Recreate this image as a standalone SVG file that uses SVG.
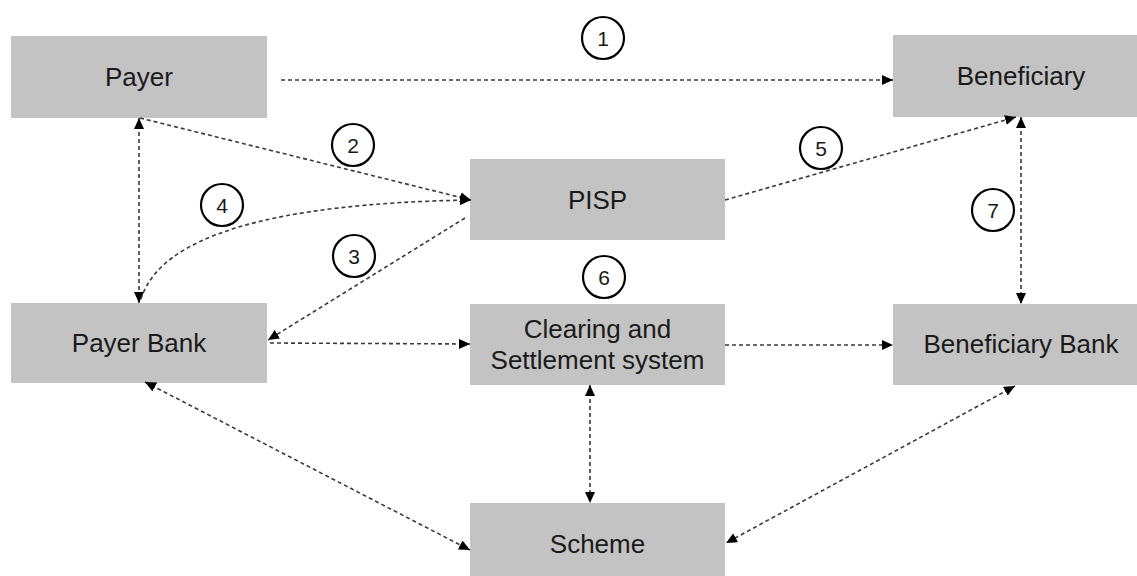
<svg xmlns="http://www.w3.org/2000/svg" width="1137" height="576" viewBox="0 0 1137 576">
<style>
.box{fill:#c3c3c3}
.lbl{font-family:"Liberation Sans",Arial,sans-serif;font-size:26px;fill:#1a1a1a;text-anchor:middle}
.con{fill:none;stroke:#3a3a3a;stroke-width:1.6;stroke-dasharray:4 3}
.num circle{fill:none;stroke:#000;stroke-width:2.2}
.num text{font-family:"Liberation Sans",Arial,sans-serif;font-size:21px;fill:#1a1a1a;text-anchor:middle}
</style>
<defs>
<marker id="ah" markerUnits="userSpaceOnUse" markerWidth="11" markerHeight="10" refX="11" refY="5" orient="auto-start-reverse">
<path d="M0,0 L11,5 L0,10 z" fill="#000"/>
</marker>
</defs>
<rect width="1137" height="576" fill="#fff"/>
<g id="payer"><rect class="box" x="11" y="36" width="256" height="82"/><text class="lbl" x="139" y="86">Payer</text></g>
<g id="beneficiary"><rect class="box" x="893" y="35" width="256" height="82"/><text class="lbl" x="1021" y="85">Beneficiary</text></g>
<g id="pisp"><rect class="box" x="470" y="159" width="255" height="81"/><text class="lbl" x="597.5" y="209">PISP</text></g>
<g id="payer-bank"><rect class="box" x="11" y="303" width="256" height="80"/><text class="lbl" x="139" y="352">Payer Bank</text></g>
<g id="clearing"><rect class="box" x="470" y="304" width="255" height="81"/><text class="lbl" x="597.5" y="338">Clearing and</text><text class="lbl" x="597.5" y="369">Settlement system</text></g>
<g id="beneficiary-bank"><rect class="box" x="893" y="304" width="256" height="81"/><text class="lbl" x="1021" y="353">Beneficiary Bank</text></g>
<g id="scheme"><rect class="box" x="470" y="503" width="255" height="82"/><text class="lbl" x="597.5" y="553">Scheme</text></g>
<g id="connectors">
<line class="con" x1="281" y1="80" x2="893" y2="80" marker-end="url(#ah)"/>
<line class="con" x1="140" y1="118" x2="471" y2="200" marker-end="url(#ah)"/>
<line class="con" x1="139" y1="118" x2="139" y2="303" marker-start="url(#ah)" marker-end="url(#ah)"/>
<path class="con" d="M141,299 Q170,205 471,200" marker-end="url(#ah)"/>
<line class="con" x1="465" y1="218" x2="268" y2="340" marker-end="url(#ah)"/>
<line class="con" x1="270" y1="343" x2="470" y2="344" marker-end="url(#ah)"/>
<line class="con" x1="725" y1="200" x2="1016" y2="117" marker-end="url(#ah)"/>
<line class="con" x1="1021" y1="117" x2="1021" y2="304" marker-start="url(#ah)" marker-end="url(#ah)"/>
<line class="con" x1="725" y1="345" x2="893" y2="345" marker-end="url(#ah)"/>
<line class="con" x1="590" y1="385" x2="590" y2="503" marker-start="url(#ah)" marker-end="url(#ah)"/>
<line class="con" x1="145" y1="382" x2="470" y2="550" marker-start="url(#ah)" marker-end="url(#ah)"/>
<line class="con" x1="1015" y1="386" x2="726" y2="543" marker-start="url(#ah)" marker-end="url(#ah)"/>
</g>
<g id="labels">
<g class="num"><circle cx="603" cy="38" r="21"/><text x="603" y="45.5">1</text></g>
<g class="num"><circle cx="353" cy="145" r="21"/><text x="353" y="152.5">2</text></g>
<g class="num"><circle cx="354" cy="256" r="21"/><text x="354" y="263.5">3</text></g>
<g class="num"><circle cx="222" cy="205" r="21"/><text x="222" y="212.5">4</text></g>
<g class="num"><circle cx="821" cy="148" r="21"/><text x="821" y="155.5">5</text></g>
<g class="num"><circle cx="604" cy="277" r="21"/><text x="604" y="284.5">6</text></g>
<g class="num"><circle cx="993" cy="210" r="21"/><text x="993" y="217.5">7</text></g>
</g>
</svg>
